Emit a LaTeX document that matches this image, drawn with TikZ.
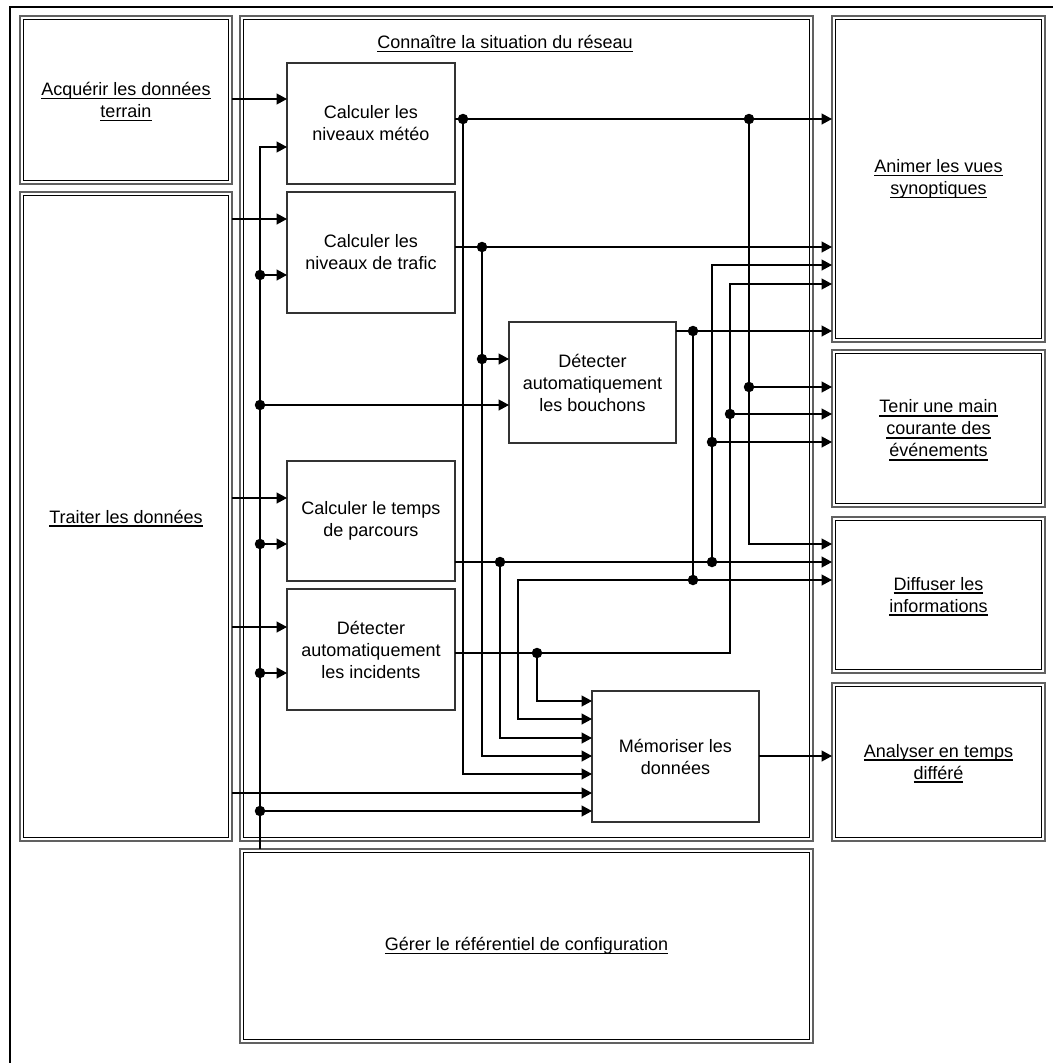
\documentclass[tikz,border=0pt]{standalone}
\usepackage{fontspec}
\setmainfont{Liberation Sans}
\usetikzlibrary{arrows.meta,calc}
\newcommand\myul[1]{\setbox0\hbox{#1}\makebox[0pt][l]{\raisebox{-3.6pt}[0pt][0pt]{\rule{\wd0}{1.6pt}}}\box0}
\begin{document}
\begin{tikzpicture}[x=1pt,y=-1pt,
 txt/.style={font=\fontsize{18}{22}\selectfont, align=center},
 panel/.style={draw=black!62, line width=2pt, outer sep=0pt, inner sep=0pt, txt},
 fnbox/.style={draw=black!80, line width=1.3pt, outer sep=0pt, inner sep=0pt, txt},
 innerline/.style={draw=black, line width=0.9pt},
 arr/.style={draw=black, line width=1.3pt, -{Triangle[length=10.5pt,width=11pt]}},
 wire/.style={draw=black, line width=1.3pt},
 dot/.style={circle, fill=black, inner sep=0pt, minimum size=10.5pt},
]
\useasboundingbox (0,0) rectangle (1053,1063);
\fill[white] (0,0) rectangle (1053,1063);
% outer frame
\draw[line width=2.5pt] (10,1063) -- (10,7) -- (1053,7);

% panels
\node[panel, minimum width=212pt, minimum height=168pt] (acq) at (126,100) {\myul{Acquérir les données}\\\myul{terrain}};
\node[panel, minimum width=212pt, minimum height=649pt] (trt) at (126,516.5) {\myul{Traiter les données}};
\node[panel, minimum width=573pt, minimum height=825pt] (cnx) at (526.5,428.5) {};
\node[panel, minimum width=573pt, minimum height=194pt] (ger) at (526.5,946) {\myul{Gérer le référentiel de configuration}};
\node[panel, minimum width=213pt, minimum height=326pt] (ani) at (938.5,179) {\myul{Animer les vues}\\\myul{synoptiques}};
\node[panel, minimum width=213pt, minimum height=157pt] (ten) at (938.5,428.5) {\myul{Tenir une main}\\\myul{courante des}\\\myul{événements}};
\node[panel, minimum width=213pt, minimum height=156pt] (dif) at (938.5,595) {\myul{Diffuser les}\\\myul{informations}};
\node[panel, minimum width=213pt, minimum height=158pt] (ana) at (938.5,762) {\myul{Analyser en temps}\\\myul{différé}};
\foreach \n in {acq,trt,cnx,ger,ani,ten,dif,ana}
  \draw[innerline] ([shift={(3.2pt,-3.2pt)}]\n.north west) rectangle ([shift={(-3.2pt,3.2pt)}]\n.south east);
\node[txt] (cnxl) at (505,42) {\myul{Connaître la situation du réseau}};

% inner function boxes
\node[fnbox, minimum width=168pt, minimum height=121pt] (met) at (371,123.5) {Calculer les\\niveaux météo};
\node[fnbox, minimum width=168pt, minimum height=121pt] (tra) at (371,252.5) {Calculer les\\niveaux de trafic};
\node[fnbox, minimum width=167pt, minimum height=121pt] (bou) at (592.5,382.5) {Détecter\\automatiquement\\les bouchons};
\node[fnbox, minimum width=168pt, minimum height=120pt] (tps) at (371,521) {Calculer le temps\\de parcours};
\node[fnbox, minimum width=168pt, minimum height=121pt] (inc) at (371,649.5) {Détecter\\automatiquement\\les incidents};
\node[fnbox, minimum width=167pt, minimum height=131pt] (mem) at (675.5,756.5) {Mémoriser les\\données};

% junction dots
\node[dot] (b1) at (260,275) {};
\node[dot] (b2) at (260,405) {};
\node[dot] (b3) at (260,544) {};
\node[dot] (b4) at (260,673) {};
\node[dot] (b5) at (260,811) {};
\node[dot] (m1) at (463,119) {};
\node[dot] (m2) at (749,119) {};
\node[dot] (m3) at (749,387) {};
\node[dot] (t1) at (482,247) {};
\node[dot] (t2) at (482,359) {};
\node[dot] (p1) at (500,562) {};
\node[dot] (p2) at (712,562) {};
\node[dot] (p3) at (712,442) {};
\node[dot] (i1) at (537,653) {};
\node[dot] (i2) at (730,414) {};
\node[dot] (o1) at (693,331) {};
\node[dot] (o2) at (693,580) {};

% acquisition / bus
\draw[arr] (acq.east |- 0,99) -- (met.west |- 0,99);
\draw[arr] (ger.north -| b1) -- (b1.center |- 0,147) -- (met.west |- 0,147);
\draw[arr] (b1.center) -- (tra.west |- b1);
\draw[arr] (b2.center) -- (bou.west |- b2);
\draw[arr] (b3.center) -- (tps.west |- b3);
\draw[arr] (b4.center) -- (inc.west |- b4);
\draw[arr] (b5.center) -- (mem.west |- b5);

% traiter
\draw[arr] (trt.east |- 0,219) -- (tra.west |- 0,219);
\draw[arr] (trt.east |- 0,498) -- (tps.west |- 0,498);
\draw[arr] (trt.east |- 0,627) -- (inc.west |- 0,627);
\draw[arr] (trt.east |- 0,793) -- (mem.west |- 0,793);

% meteo
\draw[arr] (met.east |- m1) -- (ani.west |- m1);
\draw[arr] (m1.center) |- (mem.west |- 0,774);
\draw[arr] (m2.center) |- (dif.west |- 0,544);
\draw[arr] (m3.center) -- (ten.west |- m3);

% trafic
\draw[arr] (tra.east |- t1) -- (ani.west |- t1);
\draw[arr] (t1.center) |- (mem.west |- 0,756);
\draw[arr] (t2.center) -- (bou.west |- t2);

% temps de parcours
\draw[arr] (tps.east |- p1) -- (dif.west |- p1);
\draw[arr] (p1.center) |- (mem.west |- 0,738);
\draw[arr] (p2.center) |- (ani.west |- 0,265);
\draw[arr] (p3.center) -- (ten.west |- p3);

% incidents
\draw[arr] (inc.east |- i1) -| (i2.center |- 0,284) -- (ani.west |- 0,284);
\draw[arr] (i1.center) |- (mem.west |- 0,701);
\draw[arr] (i2.center) -- (ten.west |- i2);

% bouchons
\draw[arr] (bou.east |- o1) -- (ani.west |- o1);
\draw[wire] (o1.center) -- (o2.center);
\draw[arr] (o2.center) -- (dif.west |- o2);
\draw[arr] (o2.center) -- (518,580) |- (mem.west |- 0,719);

% memoriser
\draw[arr] (mem.east |- 0,756) -- (ana.west |- 0,756);
\end{tikzpicture}
\end{document}
